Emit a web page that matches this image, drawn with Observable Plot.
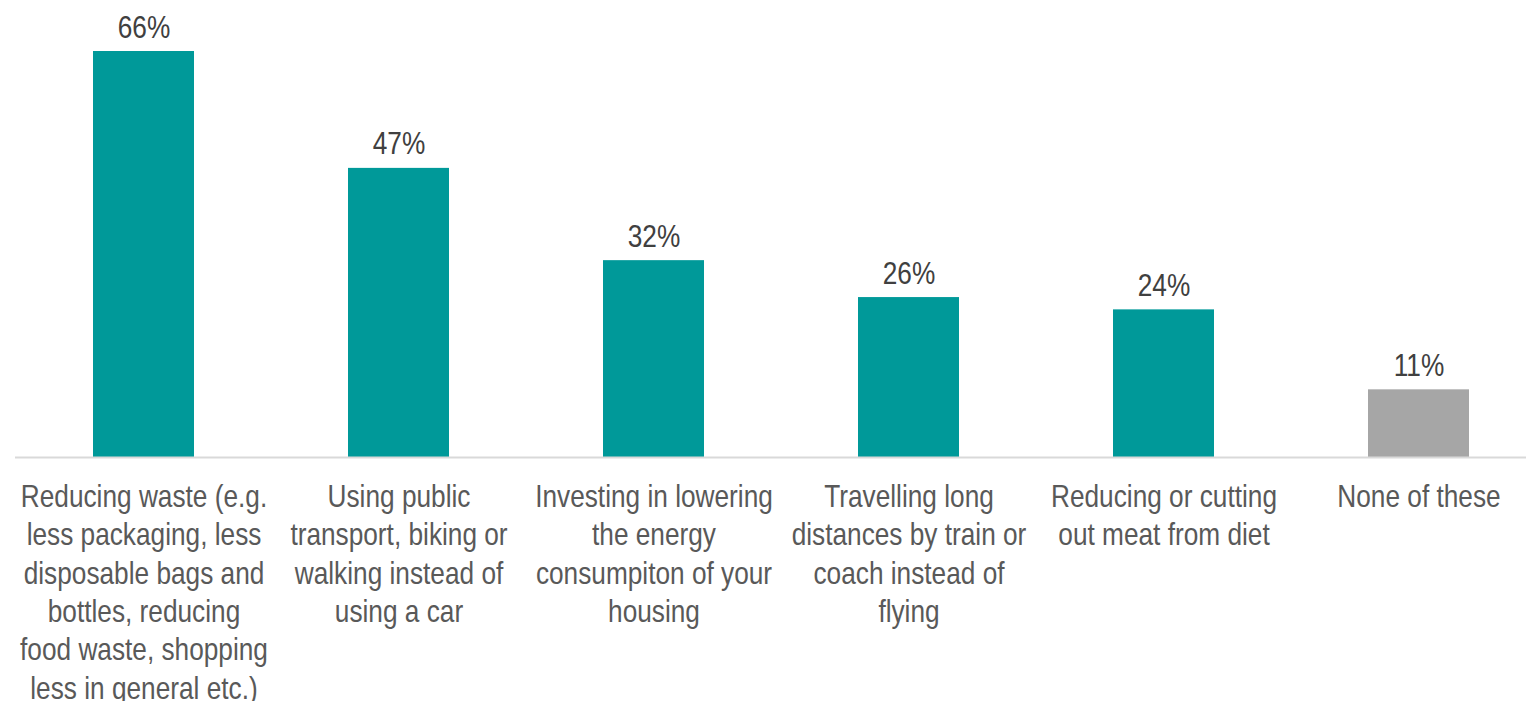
<!DOCTYPE html>
<html>
<head>
<meta charset="utf-8">
<script src="https://cdn.jsdelivr.net/npm/d3@7"></script>
<script src="https://cdn.jsdelivr.net/npm/@observablehq/plot@0.6"></script>
<style>
  html, body { margin: 0; padding: 0; background: #ffffff; }
  #chart svg { display: block; }
</style>
</head>
<body>
<div id="chart"></div>
<script>
const categories = [
  "Reducing waste (e.g. less packaging, less disposable bags and bottles, reducing food waste, shopping less in general etc.)",
  "Using public transport, biking or walking instead of using a car",
  "Investing in lowering the energy consumpiton of your housing",
  "Travelling long distances by train or coach instead of flying",
  "Reducing or cutting out meat from diet",
  "None of these"
];
const labelLines = [
  ["Reducing waste (e.g.", "less packaging, less", "disposable bags and", "bottles, reducing", "food waste, shopping", "less in general etc.)"],
  ["Using public", "transport, biking or", "walking instead of", "using a car"],
  ["Investing in lowering", "the energy", "consumpiton of your", "housing"],
  ["Travelling long", "distances by train or", "coach instead of", "flying"],
  ["Reducing or cutting", "out meat from diet"],
  ["None of these"]
];
const values = [66, 47, 32, 26, 24, 11];
const valueLabels = ["66%", "47%", "32%", "26%", "24%", "11%"];

const data = categories.map((c, i) => ({
  category: c,
  value: values[i],
  valueLabel: valueLabels[i],
  label: labelLines[i].join("\n")
}));

const TEAL = "#009999";
const GREY = "#a6a6a6";
const FONT = "'Liberation Sans', Arial, sans-serif";

const chart = Plot.plot({
  width: 1526,
  height: 701,
  marginLeft: 15,
  marginRight: 0,
  marginTop: 0,
  marginBottom: 0,
  style: { fontFamily: FONT, background: "#ffffff" },
  x: { domain: categories, range: [15, 1546], paddingInner: 0.604, paddingOuter: 0.302, axis: null },
  y: { domain: [0, 66], range: [457, 51], axis: null },
  marks: [
    Plot.barY(data, {
      x: "category",
      y: "value",
      fill: d => d.category === "None of these" ? GREY : TEAL
    }),
    Plot.ruleY([0], { stroke: "#d9d9d9", strokeWidth: 2 }),
    Plot.text(data, {
      x: "category",
      y: "value",
      text: "valueLabel",
      lineAnchor: "bottom",
      dy: -14,
      fontSize: 32,
      fill: "#404040"
    }),
    Plot.text(data, {
      x: "category",
      y: d => 0,
      text: "label",
      lineAnchor: "top",
      lineHeight: 1.2,
      dy: 22,
      fontSize: 32,
      fill: "#595959"
    })
  ]
});

// Emulate a narrow typeface (Arial Narrow) by condensing text horizontally.
chart.querySelectorAll("text").forEach(t => {
  const tr = t.getAttribute("transform");
  if (tr) {
    t.setAttribute("transform", tr + " scale(0.82,1)");
  } else {
    const x = +t.getAttribute("x") || 0;
    t.setAttribute("transform", `translate(${x},0) scale(0.82,1)`);
    t.setAttribute("x", 0);
    t.querySelectorAll("tspan").forEach(s => { if (s.getAttribute("x") != null) s.setAttribute("x", 0); });
  }
});

document.getElementById("chart").appendChild(chart);
</script>
</body>
</html>
